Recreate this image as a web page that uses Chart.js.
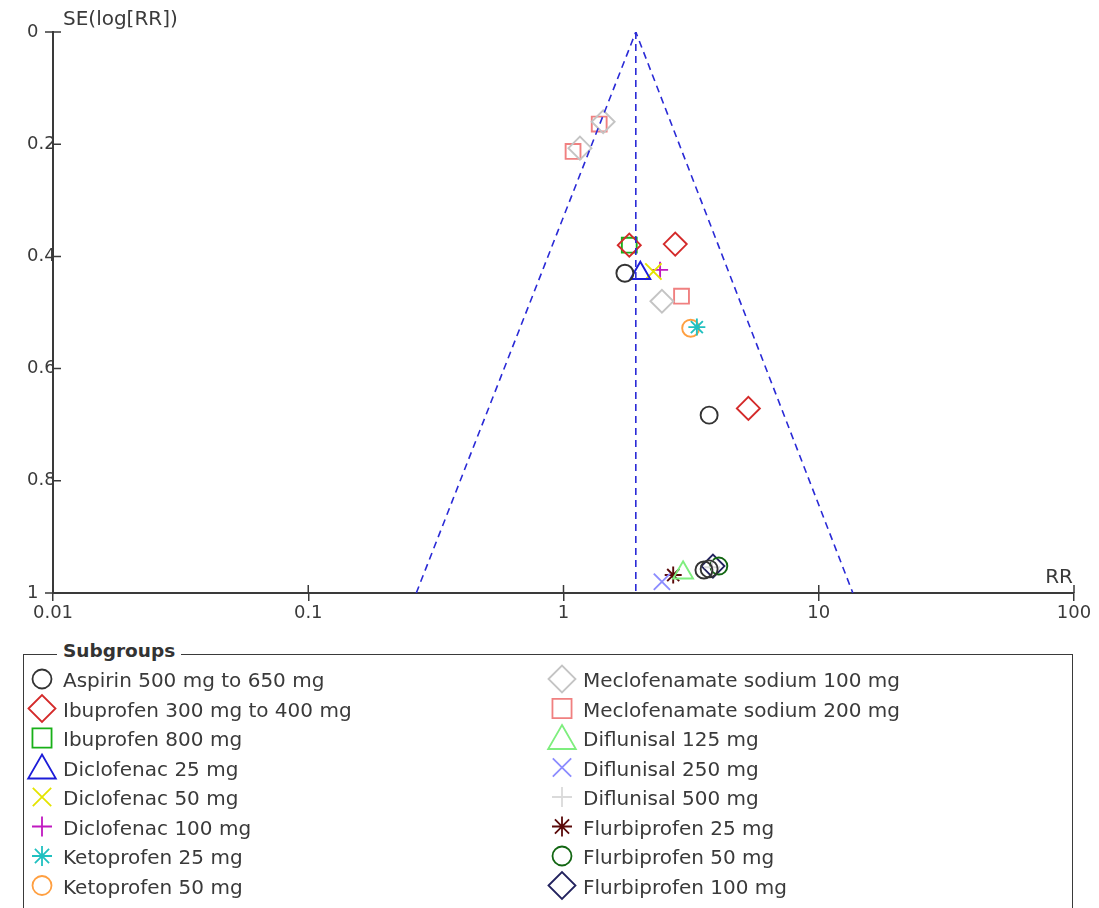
<!DOCTYPE html>
<html>
<head>
<meta charset="utf-8">
<title>Funnel plot – SE(log[RR]) vs RR</title>
<script src="https://cdn.jsdelivr.net/npm/chart.js@4.4.1/dist/chart.umd.min.js"></script>
<style>
  html, body { margin: 0; padding: 0; background: #fff; }
  body { width: 1099px; height: 908px; position: relative; overflow: hidden;
         font-family: "DejaVu Sans", sans-serif; color: #3a3a3a; }
  #plotWrap { position: absolute; left: 0; top: 0; width: 1099px; height: 640px; }
  #legendBox { position: absolute; left: 23px; top: 654px; width: 1050px; height: 300px;
               border: 1.5px solid #3a3a3a; box-sizing: border-box; }
  #legendTitle { position: absolute; left: 57px; top: 641px; padding: 0 6px; background: #fff;
                 font: bold 18.5px "DejaVu Sans", sans-serif; line-height: 20px; color: #333; }
  #legendMarks { position: absolute; left: 0; top: 640px; }
  .item { position: absolute; font-size: 20px; line-height: 20px; white-space: nowrap; color: #3a3a3a; }
</style>
</head>
<body>
<div id="plotWrap"><canvas id="funnel"></canvas></div>
<div id="legendBox"></div>
<div id="legendTitle">Subgroups</div>
<canvas id="legendMarks" width="1099" height="268"></canvas>
<div id="legendItems"></div>

<script>
// ---- data ----
const subgroups = [
  "Aspirin 500 mg to 650 mg", "Ibuprofen 300 mg to 400 mg", "Ibuprofen 800 mg",
  "Diclofenac 25 mg", "Diclofenac 50 mg", "Diclofenac 100 mg",
  "Ketoprofen 25 mg", "Ketoprofen 50 mg",
  "Meclofenamate sodium 100 mg", "Meclofenamate sodium 200 mg",
  "Diflunisal 125 mg", "Diflunisal 250 mg", "Diflunisal 500 mg",
  "Flurbiprofen 25 mg", "Flurbiprofen 50 mg", "Flurbiprofen 100 mg"
];

// risk ratio of each study, per subgroup
const rrValues = [
  [1.74, 3.72, 3.55, 3.72],
  [1.81, 2.74, 5.30],
  [1.81],
  [2.00],
  [2.25],
  [2.39],
  [3.33],
  [3.15],
  [1.43, 1.16, 2.43],
  [1.38, 1.09, 2.90],
  [2.94],
  [2.43],
  [3.82],
  [2.69],
  [4.06],
  [3.85]
];

// standard error of log(RR) of each study, per subgroup
const seValues = [
  [0.430, 0.683, 0.959, 0.957],
  [0.380, 0.378, 0.671],
  [0.380],
  [0.430],
  [0.427],
  [0.424],
  [0.526],
  [0.528],
  [0.160, 0.207, 0.480],
  [0.164, 0.213, 0.471],
  [0.964],
  [0.980],
  [0.954],
  [0.968],
  [0.952],
  [0.952]
];

// pooled estimate and the pseudo confidence limits at SE = 1
const pooledRR = 1.92;
const funnelLimitsAtSE1 = [0.265, 13.6];

const xTickValues = [0.01, 0.1, 1, 10, 100];
const xTickLabels = ["0.01", "0.1", "1", "10", "100"];
const yTickValues = [0, 0.2, 0.4, 0.6, 0.8, 1];
const yTickLabels = ["0", "0.2", "0.4", "0.6", "0.8", "1"];

// ---- marker styling ----
const colors = [
  "#333333", "#d42a2a", "#18b018", "#1c1cd8", "#e4e400", "#c018c0", "#20c0c0", "#ff9f40",
  "#c4c4c4", "#f08080", "#7eee7e", "#8c8cff", "#dadada", "#5a0a0a", "#126612", "#22225e"
];
const styles = [
  "circle", "rectRot", "rect", "triangle", "crossRot", "cross", "star", "circle",
  "rectRot", "rect", "triangle", "crossRot", "cross", "star", "circle", "rectRot"
];
const plotRadius = { circle: 8.5, rectRot: 11.5, rect: 10.5, triangle: 11.5, crossRot: 11.5, cross: 8, star: 8.5 };
const legendRadius = { circle: 9.5, rectRot: 13.5, rect: 13.5, triangle: 16, crossRot: 13, cross: 10, star: 10 };

const AXIS_COLOR = "#3a3a3a";
const FONT = "DejaVu Sans";

// ---- datasets ----
const studyDatasets = subgroups.map((name, i) => ({
  type: "scatter",
  label: name,
  data: rrValues[i].map((rr, j) => ({ x: rr, y: seValues[i][j] })),
  pointStyle: styles[i],
  pointRadius: plotRadius[styles[i]],
  pointBorderColor: colors[i],
  pointBackgroundColor: "rgba(0,0,0,0)",
  pointBorderWidth: 1.9,
  showLine: false
}));

const dashed = { borderColor: "#2a2ad6", borderWidth: 1.6, borderDash: [7, 5], pointRadius: 0, fill: false, tension: 0 };
const funnelDatasets = [
  Object.assign({ type: "line", label: "funnel", data: [
    { x: funnelLimitsAtSE1[0], y: 1 }, { x: pooledRR, y: 0 }, { x: funnelLimitsAtSE1[1], y: 1 }
  ] }, dashed),
  Object.assign({ type: "line", label: "pooled", data: [
    { x: pooledRR, y: 0 }, { x: pooledRR, y: 1 }
  ] }, dashed)
];

// axis ticks that cross the axis line, plus the axis titles
const axisDecor = {
  id: "axisDecor",
  afterDraw(chart) {
    const { ctx, chartArea: a, scales: { x, y } } = chart;
    ctx.save();
    ctx.strokeStyle = AXIS_COLOR;
    ctx.lineWidth = 1.5;
    ctx.beginPath();
    xTickValues.forEach(v => { const p = x.getPixelForValue(v); ctx.moveTo(p, a.bottom); ctx.lineTo(p, a.bottom - 8); });
    yTickValues.forEach((v, i) => {
      const p = y.getPixelForValue(v);
      const ends = i === 0 || i === yTickValues.length - 1;
      ctx.moveTo(ends ? a.left - 8 : a.left, p);
      ctx.lineTo(a.left + 8, p);
    });
    ctx.stroke();
    ctx.fillStyle = AXIS_COLOR;
    ctx.font = "20px '" + FONT + "'";
    ctx.textBaseline = "alphabetic";
    ctx.textAlign = "left";
    ctx.fillText("SE(log[RR])", 63, 25);
    ctx.textAlign = "right";
    ctx.fillText("RR", a.right - 1, a.bottom - 10);
    ctx.restore();
  }
};

const canvas = document.getElementById("funnel");
canvas.width = 1099; canvas.height = 640;

new Chart(canvas, {
  data: { datasets: funnelDatasets.concat(studyDatasets) },
  options: {
    responsive: false,
    animation: false,
    events: [],
    layout: { padding: { top: 32, right: 25, left: 27, bottom: 0 } },
    plugins: { legend: { display: false }, tooltip: { enabled: false } },
    scales: {
      x: {
        type: "logarithmic",
        min: 0.01, max: 100,
        afterBuildTicks: s => { s.ticks = xTickValues.map(v => ({ value: v })); },
        afterFit: s => { s.height = 47; },
        ticks: {
          autoSkip: false, maxRotation: 0, padding: 2, color: AXIS_COLOR,
          font: { family: FONT, size: 18 },
          callback: (v, i) => xTickLabels[i]
        },
        grid: { display: true, drawOnChartArea: false, drawTicks: true, tickLength: 8, color: AXIS_COLOR, lineWidth: 1.5 },
        border: { display: true, color: AXIS_COLOR, width: 2 }
      },
      y: {
        type: "linear",
        reverse: true,
        min: 0, max: 1,
        afterBuildTicks: s => { s.ticks = yTickValues.map(v => ({ value: v })); },
        afterFit: s => { s.width = 26; },
        ticks: {
          autoSkip: false, padding: 0, crossAlign: "far", color: AXIS_COLOR,
          font: { family: FONT, size: 18 },
          callback: (v, i) => yTickLabels[i]
        },
        grid: { display: true, drawOnChartArea: false, drawTicks: false, color: AXIS_COLOR, lineWidth: 1.5 },
        border: { display: true, color: AXIS_COLOR, width: 2 }
      }
    }
  },
  plugins: [axisDecor]
});

// ---- legend: two columns of marker + label ----
const legendCanvas = document.getElementById("legendMarks");
const lctx = legendCanvas.getContext("2d");
const itemsDiv = document.getElementById("legendItems");
const rowsPerColumn = 8;
const firstBaseline = 687, rowPitch = 29.5;
const columnX = [{ mark: 42, text: 63 }, { mark: 562, text: 583 }];

function drawMarker(ctx, style, r, cx, cy) {
  if (Chart.helpers && Chart.helpers.drawPoint) {
    Chart.helpers.drawPoint(ctx, { pointStyle: style, radius: r, borderWidth: 1.8, rotation: 0 }, cx, cy);
  }
}

subgroups.forEach((name, i) => {
  const col = columnX[Math.floor(i / rowsPerColumn)];
  const baseline = firstBaseline + (i % rowsPerColumn) * rowPitch;
  const cy = baseline - 8 - 640;
  lctx.save();
  lctx.strokeStyle = colors[i];
  lctx.fillStyle = "rgba(0,0,0,0)";
  lctx.lineWidth = 1.8;
  drawMarker(lctx, styles[i], legendRadius[styles[i]], col.mark, styles[i] === "triangle" ? cy + 3 : cy);
  lctx.restore();

  const span = document.createElement("div");
  span.className = "item";
  span.textContent = name;
  span.style.left = col.text + "px";
  span.style.top = (baseline - 16.8) + "px";
  itemsDiv.appendChild(span);
});
</script>
</body>
</html>
